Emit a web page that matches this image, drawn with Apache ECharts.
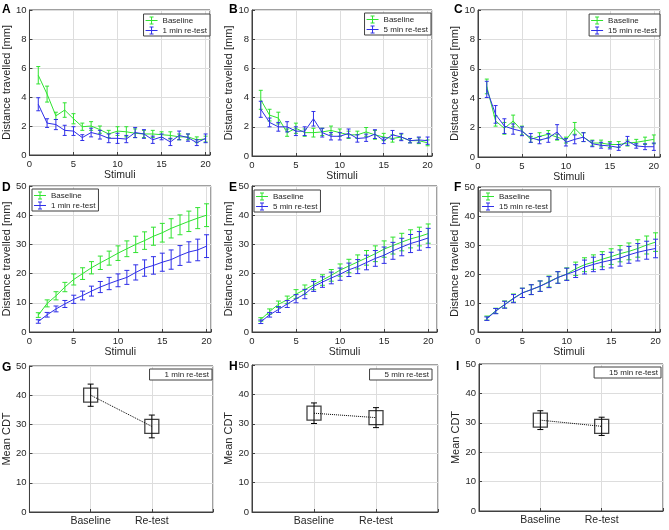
<!DOCTYPE html>
<html><head><meta charset="utf-8">
<script src="https://cdn.jsdelivr.net/npm/echarts@6/dist/echarts.min.js"></script>
<style>html,body{margin:0;padding:0;background:#fff}#c{width:669px;height:530px}</style>
</head><body><div id="c"></div>
<script>
const stimuli = [1,2,3,4,5,6,7,8,9,10,11,12,13,14,15,16,17,18,19,20];

// Panel A (per-stimulus, 1 min)
const baseA    = [5.5,4.2,2.7,3.1,2.5,1.95,2.0,1.75,1.45,1.65,1.6,1.5,1.45,1.45,1.4,1.35,1.25,1.25,1.05,1.1];
const baseAErr = [0.6,0.55,0.25,0.5,0.35,0.25,0.3,0.25,0.25,0.3,0.35,0.3,0.25,0.25,0.2,0.25,0.2,0.2,0.2,0.2];
const retA     = [3.5,2.2,2.1,1.7,1.65,1.2,1.55,1.4,1.15,1.15,1.1,1.55,1.45,1.05,1.25,0.9,1.35,1.2,0.85,1.15];
const retAErr  = [0.45,0.3,0.35,0.35,0.3,0.2,0.3,0.3,0.3,0.35,0.25,0.35,0.3,0.25,0.2,0.25,0.3,0.25,0.2,0.3];
// Panel B (5 min)
const baseB    = [3.85,2.8,2.6,1.6,1.9,1.6,1.6,1.65,1.75,1.6,1.45,1.45,1.65,1.45,1.3,1.2,1.3,1.05,1.05,0.9];
const baseBErr = [0.65,0.4,0.4,0.25,0.35,0.25,0.3,0.25,0.3,0.25,0.25,0.25,0.3,0.3,0.25,0.25,0.2,0.15,0.2,0.2];
const retB     = [3.2,2.3,2.0,2.0,1.7,1.7,2.55,1.6,1.35,1.35,1.55,1.2,1.25,1.5,1.05,1.45,1.3,1.05,1.1,1.05];
const retBErr  = [0.55,0.3,0.3,0.35,0.3,0.3,0.5,0.3,0.25,0.25,0.3,0.25,0.25,0.3,0.2,0.3,0.25,0.15,0.2,0.25];
// Panel C (15 min)
const baseC    = [4.8,2.45,1.95,2.45,1.8,1.2,1.4,1.55,1.35,1.15,1.95,1.35,0.95,0.95,0.85,0.85,0.95,1.0,1.1,1.2];
const baseCErr = [0.5,0.35,0.4,0.4,0.3,0.2,0.25,0.25,0.2,0.2,0.4,0.3,0.2,0.2,0.2,0.2,0.2,0.2,0.25,0.3];
const retC     = [4.6,2.9,2.1,1.9,1.75,1.3,1.15,1.3,1.7,1.0,1.2,1.35,0.9,0.8,0.75,0.65,1.1,0.75,0.7,0.7];
const retCErr  = [0.55,0.6,0.5,0.35,0.3,0.3,0.25,0.3,0.5,0.25,0.3,0.3,0.2,0.2,0.2,0.2,0.3,0.15,0.2,0.25];
// Panel D (cumulative, 1 min)
const baseD    = [5.8,9.8,12.4,15.4,18,20,22,23.7,25.3,27,28.5,30,31.3,32.8,34,35.5,36.7,37.9,39,40];
const baseDErr = [0.8,1.2,1.4,1.6,1.9,2,2.1,2.3,2.4,2.5,2.7,2.8,3,3.1,3.2,3.3,3.4,3.5,3.6,3.9];
const retD     = [3.6,5.9,7.9,9.6,11.2,12.5,14,15.4,16.6,17.7,18.7,20.4,21.9,22.8,23.9,24.8,26.2,27.4,28.1,29.4];
const retDErr  = [0.6,0.8,1,1.2,1.4,1.5,1.7,1.9,2.1,2.2,2.4,2.6,2.8,3,3.1,3.3,3.4,3.5,3.7,3.9];
// Panel E (cumulative, 5 min)
const baseE    = [4.3,7.0,9.5,11,13,14.5,16.2,17.8,19.4,21.2,22.6,24,25.4,26.8,28.4,29.6,30.8,31.9,32.7,33.7];
const baseEErr = [0.6,0.9,1.1,1.3,1.5,1.6,1.7,1.8,2,2.1,2.3,2.4,2.5,2.7,2.8,2.9,3,3.1,3.2,3.3];
const retE     = [3.5,5.9,7.7,9.6,11.4,13,15.6,17.1,18.5,19.8,21.3,22.4,23.8,25.2,26.3,27.8,29.1,30.3,31.2,32.2];
const retEErr  = [0.6,0.8,1,1.2,1.4,1.6,1.7,1.8,2,2.1,2.3,2.4,2.5,2.7,2.8,2.9,3,3.1,3.2,3.3];
// Panel F (cumulative, 15 min)
const baseF    = [4.8,7.3,9.5,11.7,13.5,14.6,15.8,17.4,18.8,20,21.8,23.2,24.1,25.1,26,27,27.8,28.8,30,31];
const baseFErr = [0.7,0.9,1.2,1.4,1.6,1.7,1.8,1.9,2,2.1,2.3,2.4,2.5,2.6,2.7,2.8,2.9,3,3.1,3.2];
const retF     = [4.6,7.2,9.4,11.5,13.5,14.6,15.8,17.2,18.8,19.9,21,22.4,23.3,24.1,24.8,25.5,26.6,27.5,28.2,28.8];
const retFErr  = [0.6,0.9,1.2,1.4,1.6,1.7,1.8,1.9,2,2.1,2.2,2.4,2.5,2.6,2.7,2.8,2.9,3,3.1,3.2];
// Panels G-I (mean CDT)
const cdtLabels = ['Baseline','Re-test'];
const cdtPos = [1, 2];
const cdtG = [40, 29.3], cdtGErr = [3.8, 3.9];
const cdtH = [33.6, 32.1], cdtHErr = [3.5, 3.4];
const cdtI = [30.9, 28.8], cdtIErr = [3.2, 3.1];

const retNames = ['1 min re-test','5 min re-test','15 min re-test'];
const GREEN = '#2fe32f', BLUE = '#2f2fe8', AX = '#404040';
const FONT = 'Liberation Sans, Arial, Helvetica, sans-serif';
const errIcon = 'path://M0,3.5h12v1h-12z M5.5,0h1v8h-1z M4,0h4v1h-4z M4,7h4v1h-4z';

const panels = [
  {g:{left:28,top:10,width:182,height:145}, xMax:20.5, yMax:10, yInt:2, b:baseA,be:baseAErr,r:retA,re:retAErr, rn:0, leg:{right:459,top:14}, xName:true, cap:2},
  {g:{left:252,top:10,width:180,height:146}, xMax:20.5, yMax:10, yInt:2, b:baseB,be:baseBErr,r:retB,re:retBErr, rn:1, leg:{right:238,top:13}, xName:true, cap:2},
  {g:{left:478,top:10,width:182,height:147}, xMax:20.7, yMax:10, yInt:2, b:baseC,be:baseCErr,r:retC,re:retCErr, rn:2, leg:{right:9,top:14}, xName:true, cap:2},
  {g:{left:29,top:186,width:182,height:146}, xMax:20.5, yMax:50, yInt:10, b:baseD,be:baseDErr,r:retD,re:retDErr, rn:0, leg:{left:32,top:189}, xName:true, cap:2.5},
  {g:{left:252,top:186,width:185,height:146}, xMax:21, yMax:50, yInt:10, b:baseE,be:baseEErr,r:retE,re:retEErr, rn:1, leg:{left:254,top:190}, xName:true, cap:2.5},
  {g:{left:478,top:187,width:182,height:145}, xMax:20.5, yMax:50, yInt:10, b:baseF,be:baseFErr,r:retF,re:retFErr, rn:2, leg:{left:480,top:190}, xName:true, cap:2.5},
  {g:{left:28,top:366,width:185,height:146}, cdt:cdtG, cdtE:cdtGErr, rn:0, leg:{right:457,top:369}},
  {g:{left:252,top:365,width:186,height:147}, cdt:cdtH, cdtE:cdtHErr, rn:1, leg:{right:237,top:369}},
  {g:{left:479,top:364,width:184,height:147}, cdt:cdtI, cdtE:cdtIErr, rn:2, leg:{right:8,top:367}}
];
const letters = [['A',2,4],['B',229,4],['C',454,4],['D',2,182],['E',229,182],['F',454,182],['G',2,362],['H',229,361],['I',456,361]];

function errSeries(name, idx, xs, m, e, color, cap){
  return {
    type:'custom', name, xAxisIndex:idx, yAxisIndex:idx, z:3,
    itemStyle:{color},
    data: xs.map((x,i)=>[x, m[i], m[i]-e[i], m[i]+e[i]]),
    encode:{x:0, y:[1,2,3]},
    renderItem:(params, api)=>{
      const x = api.value(0);
      const t = api.coord([x, api.value(3)]), b = api.coord([x, api.value(2)]);
      const st = {stroke:color, lineWidth:1, fill:null};
      return {type:'group', children:[
        {type:'line', shape:{x1:t[0],y1:t[1],x2:b[0],y2:b[1]}, style:st},
        {type:'line', shape:{x1:t[0]-cap,y1:t[1],x2:t[0]+cap,y2:t[1]}, style:st},
        {type:'line', shape:{x1:b[0]-cap,y1:b[1],x2:b[0]+cap,y2:b[1]}, style:st}
      ]};
    }
  };
}

const grid=[], xAxis=[], yAxis=[], series=[], legend=[];
const axCommon = {
  axisLine:{show:true, lineStyle:{color:AX, width:1}},
  axisTick:{show:true, inside:true, length:3, lineStyle:{color:AX}},
  splitLine:{show:true, lineStyle:{color:'#dddddd', width:1}},
  axisLabel:{color:'#262626', fontSize:9.5, fontFamily:FONT, margin:4},
  nameTextStyle:{color:'#262626', fontSize:11, fontFamily:FONT}
};
panels.forEach((p, i)=>{
  grid.push(Object.assign({show:true, borderColor:AX, borderWidth:1, backgroundColor:'transparent'}, p.g));
  const isCdt = !!p.cdt;
  xAxis.push(Object.assign({}, axCommon, {
    type:'value', gridIndex:i, min:0, max:isCdt?3:p.xMax, interval:isCdt?1:5,
    name: p.xName ? 'Stimuli' : '', nameLocation:'middle', nameGap:14,
    nameTextStyle:{color:'#262626', fontSize:10.5, fontFamily:FONT, verticalAlign:'top'},
    axisLabel:Object.assign({}, axCommon.axisLabel, {
      fontSize: isCdt ? 10.5 : 9.5,
      formatter: isCdt ? (v)=>{const k=cdtPos.indexOf(v); return k>=0?cdtLabels[k]:'';}
                       : (v)=> (v%5===0 ? String(v) : '')
    })
  }));
  yAxis.push(Object.assign({}, axCommon, {
    type:'value', gridIndex:i, min:0, max:isCdt?50:p.yMax, interval:isCdt?10:p.yInt,
    name: isCdt ? 'Mean CDT' : 'Distance travelled [mm]', nameLocation:'middle', nameGap: isCdt?14:11,
    axisLabel:Object.assign({}, axCommon.axisLabel, {margin:3})
  }));
  const rn = retNames[p.rn];
  if (!isCdt){
    series.push({type:'line', name:'Baseline', xAxisIndex:i, yAxisIndex:i, data:stimuli.map((x,k)=>[x,p.b[k]]),
      symbol:'none', lineStyle:{color:GREEN, width:1}, itemStyle:{color:GREEN}, z:2, animation:false});
    series.push(errSeries('Baseline', i, stimuli, p.b, p.be, GREEN, p.cap));
    series.push({type:'line', name:rn, xAxisIndex:i, yAxisIndex:i, data:stimuli.map((x,k)=>[x,p.r[k]]),
      symbol:'none', lineStyle:{color:BLUE, width:1}, itemStyle:{color:BLUE}, z:4, animation:false});
    series.push(Object.assign(errSeries(rn, i, stimuli, p.r, p.re, BLUE, p.cap), {z:5}));
    legend.push(Object.assign({
      orient:'vertical', itemWidth:12, itemHeight:8, itemGap:1, padding:[2,3,1,2],
      borderColor:AX, borderWidth:1, backgroundColor:'#fff', selectedMode:false,
      symbolKeepAspect:false,
      textStyle:{fontSize:8, fontFamily:FONT, color:'#262626', lineHeight:9},
      data:[{name:'Baseline', icon:errIcon, itemStyle:{color:GREEN}}, {name:rn, icon:errIcon, itemStyle:{color:BLUE}}]
    }, p.leg));
  } else {
    series.push({type:'line', name:rn, xAxisIndex:i, yAxisIndex:i, data:cdtPos.map((x,k)=>[x,p.cdt[k]]),
      symbol:'none', lineStyle:{color:'#000', width:1, type:'dotted'}, itemStyle:{color:'#000'}, z:2, animation:false});
    series.push(errSeries('err'+i, i, cdtPos, p.cdt, p.cdtE, '#000', 3));
    series.push({type:'scatter', name:'box'+i, xAxisIndex:i, yAxisIndex:i, data:cdtPos.map((x,k)=>[x,p.cdt[k]]),
      symbol:'rect', symbolSize:14, itemStyle:{color:'rgba(0,0,0,0)', borderColor:'#111', borderWidth:1.3}, z:4, animation:false});
    legend.push(Object.assign({
      orient:'vertical', itemWidth:8, itemHeight:8, padding:[1,3,1,2],
      borderColor:AX, borderWidth:1, backgroundColor:'#fff', selectedMode:false,
      textStyle:{fontSize:8, fontFamily:FONT, color:'#262626', lineHeight:9},
      data:[{name:rn, icon:'rect', itemStyle:{color:'rgba(0,0,0,0)', opacity:0, borderWidth:0}}]
    }, p.leg));
  }
});

const graphic = letters.map(([t,x,y])=>({type:'text', left:x, top:y, z:100,
  style:{text:t, fontSize:12, fontWeight:'bold', fontFamily:FONT, fill:'#000'}}));

const chart = echarts.init(document.getElementById('c'), null, {renderer:'canvas'});
chart.setOption({backgroundColor:'#fff', animation:false, grid, xAxis, yAxis, series, legend, graphic});
</script></body></html>
